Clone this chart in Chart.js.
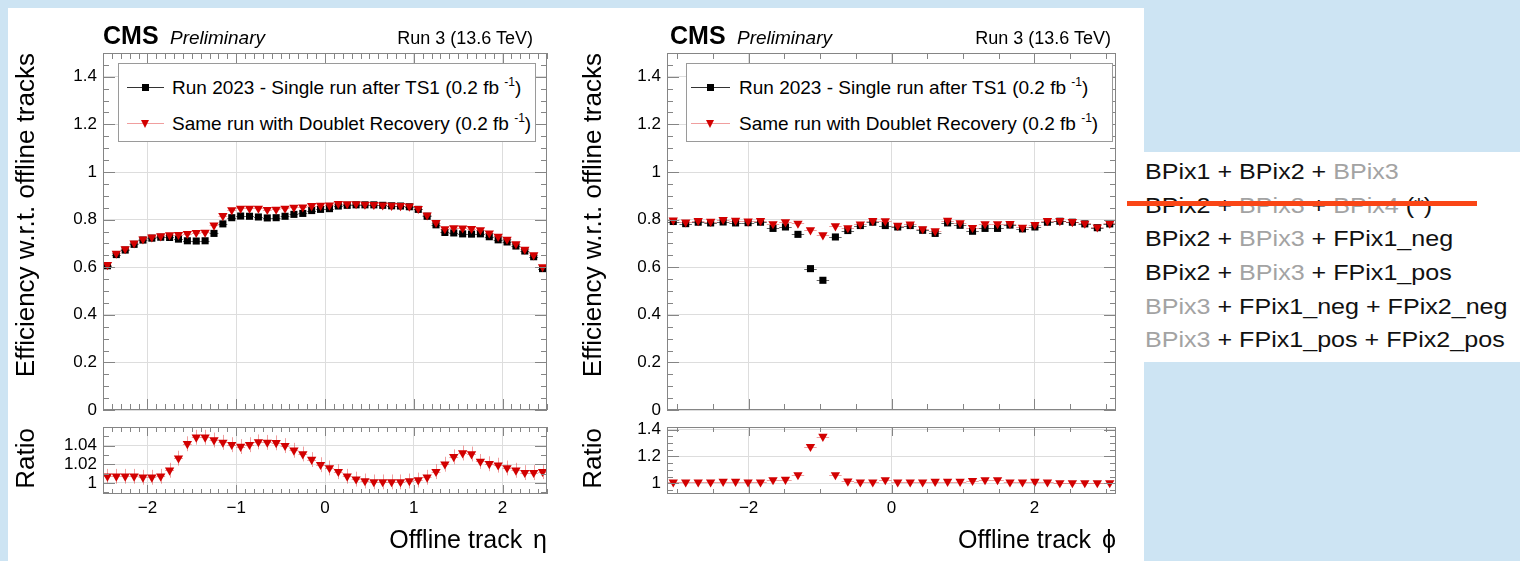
<!DOCTYPE html>
<html>
<head>
<meta charset="utf-8">
<script src="https://cdn.jsdelivr.net/npm/chart.js@4.4.1/dist/chart.umd.min.js"></script>
<style>
  html, body { margin: 0; padding: 0; }
  body {
    width: 1520px; height: 561px; position: relative; overflow: hidden;
    background: #cde4f3;
    font-family: "Liberation Sans", Arial, Helvetica, sans-serif;
  }
  #panel { position: absolute; left: 8px; top: 8px; width: 1136px; height: 553px; background: #fff; }
  #layers { position: absolute; left: 1144px; top: 152px; width: 376px; height: 210px; background: #fff; }
  canvas { position: absolute; }
  .t { position: absolute; white-space: nowrap; color: #000; line-height: 1; }
  .g { color: #a3a3a3; }
  .legend { position: absolute; background: #fff; border: 1px solid #9a9a9a; box-sizing: border-box; }
  .seg { position: absolute; height: 1px; }
</style>
</head>
<body>
<div id="panel"></div>
<div id="layers"></div>
<script>
// ─── Data ────────────────────────────────────────────────────────────────────

const etaCenters = [
  -2.45, -2.35, -2.25, -2.15, -2.05, -1.95, -1.85, -1.75, -1.65, -1.55,
  -1.45, -1.35, -1.25, -1.15, -1.05, -0.95, -0.85, -0.75, -0.65, -0.55,
  -0.45, -0.35, -0.25, -0.15, -0.05,  0.05,  0.15,  0.25,  0.35,  0.45,
   0.55,  0.65,  0.75,  0.85,  0.95,  1.05,  1.15,  1.25,  1.35,  1.45,
   1.55,  1.65,  1.75,  1.85,  1.95,  2.05,  2.15,  2.25,  2.35,  2.45
];
const etaSingleRun = [
  0.606, 0.653, 0.672, 0.696, 0.714, 0.722, 0.726, 0.725, 0.718, 0.711,
  0.710, 0.711, 0.742, 0.782, 0.808, 0.815, 0.814, 0.811, 0.807, 0.808,
  0.814, 0.822, 0.826, 0.838, 0.843, 0.846, 0.857, 0.860, 0.862, 0.862,
  0.862, 0.860, 0.858, 0.857, 0.854, 0.843, 0.814, 0.778, 0.746, 0.744,
  0.740, 0.739, 0.740, 0.728, 0.715, 0.706, 0.689, 0.668, 0.644, 0.594
];
const etaDoublet = [
  0.610, 0.658, 0.677, 0.701, 0.718, 0.726, 0.731, 0.735, 0.737, 0.741,
  0.745, 0.746, 0.776, 0.816, 0.841, 0.847, 0.847, 0.847, 0.842, 0.843,
  0.847, 0.851, 0.852, 0.858, 0.859, 0.860, 0.867, 0.866, 0.866, 0.864,
  0.863, 0.861, 0.859, 0.858, 0.856, 0.846, 0.819, 0.787, 0.761, 0.765,
  0.764, 0.762, 0.757, 0.743, 0.729, 0.717, 0.698, 0.675, 0.651, 0.601
];
const etaRatio = [
  1.007, 1.007, 1.007, 1.007, 1.006, 1.006, 1.007, 1.0135, 1.0265, 1.042,
  1.049, 1.049, 1.046, 1.0435, 1.041, 1.039, 1.041, 1.044, 1.0435, 1.043,
  1.040, 1.035, 1.031, 1.025, 1.0195, 1.016, 1.012, 1.007, 1.004, 1.002,
  1.001, 1.001, 1.001, 1.001, 1.002, 1.003, 1.006, 1.012, 1.020, 1.028,
  1.032, 1.031, 1.023, 1.0205, 1.019, 1.016, 1.0135, 1.011, 1.011, 1.012
];

const phiCenters = [
  -3.054, -2.880, -2.705, -2.531, -2.356, -2.182, -2.007, -1.833, -1.658, -1.484,
  -1.309, -1.134, -0.960, -0.785, -0.611, -0.436, -0.262, -0.087,  0.087,  0.262,
   0.436,  0.611,  0.785,  0.960,  1.134,  1.309,  1.484,  1.658,  1.833,  2.007,
   2.182,  2.356,  2.531,  2.705,  2.880,  3.054
];
const phiSingleRun = [
  0.792, 0.783, 0.789, 0.786, 0.790, 0.786, 0.787, 0.789, 0.763, 0.769,
  0.738, 0.594, 0.545, 0.727, 0.754, 0.775, 0.789, 0.775, 0.769, 0.775,
  0.755, 0.742, 0.786, 0.776, 0.751, 0.763, 0.763, 0.777, 0.761, 0.769,
  0.789, 0.793, 0.789, 0.782, 0.766, 0.782
];
const phiDoublet = [
  0.798, 0.789, 0.795, 0.792, 0.800, 0.796, 0.793, 0.795, 0.782, 0.790,
  0.784, 0.756, 0.735, 0.773, 0.765, 0.781, 0.795, 0.794, 0.775, 0.781,
  0.761, 0.752, 0.796, 0.786, 0.766, 0.782, 0.782, 0.783, 0.767, 0.779,
  0.795, 0.795, 0.791, 0.784, 0.768, 0.784
];
const phiRatio = [
  1.008, 1.008, 1.008, 1.008, 1.013, 1.013, 1.008, 1.008, 1.025, 1.028,
  1.063, 1.273, 1.349, 1.063, 1.015, 1.008, 1.008, 1.025, 1.008, 1.008,
  1.008, 1.013, 1.013, 1.013, 1.020, 1.025, 1.025, 1.008, 1.008, 1.013,
  1.008, 1.003, 1.003, 1.003, 1.003, 1.003
];

const effTicks      = [0, 0.2, 0.4, 0.6, 0.8, 1, 1.2, 1.4];
const etaTicks      = [-2, -1, 0, 1, 2];
const phiTicks      = [-2, 0, 2];
const etaRatioTicks = [1, 1.02, 1.04];
const phiRatioTicks = [1, 1.2, 1.4];

const legendLabels = [
  'Run 2023 - Single run after TS1 (0.2 fb <sup>-1</sup>)',
  'Same run with Doublet Recovery (0.2 fb <sup>-1</sup>)'
];

// ─── Style ───────────────────────────────────────────────────────────────────

const FONT   = '"Liberation Sans", Arial, Helvetica, sans-serif';
const GRID   = '#dddddd';
const FRAME  = '#858585';
const RED    = '#d20000';
const RED_BAR   = 'rgba(215,0,0,0.38)';
const BLACK_BAR = 'rgba(0,0,0,0.6)';
const TICK_SIZE = 17;

const fmtX = v => (v < 0 ? '\u2212' + Math.abs(v) : String(v));
const fmtY = v => String(+(+v).toFixed(2));

// ─── Plugin: ROOT-like frame, inward ticks, error bars ───────────────────────

const rootFrame = {
  id: 'rootFrame',
  beforeDatasetsDraw(chart) {
    const { ctx, chartArea: a, scales: { x, y } } = chart;
    ctx.save();
    ctx.beginPath();
    ctx.rect(a.left, a.top, a.right - a.left, a.bottom - a.top);
    ctx.clip();
    ctx.lineWidth = 1;
    chart.data.datasets.forEach(ds => {
      ctx.strokeStyle = ds.barColor;
      ctx.beginPath();
      ds.data.forEach(p => {
        const py = Math.round(y.getPixelForValue(p.y)) + 0.5;
        ctx.moveTo(x.getPixelForValue(p.x - ds.halfWidth), py);
        ctx.lineTo(x.getPixelForValue(p.x + ds.halfWidth), py);
        if (ds.yErr) {
          const px = Math.round(x.getPixelForValue(p.x)) + 0.5;
          ctx.moveTo(px, y.getPixelForValue(p.y - ds.yErr));
          ctx.lineTo(px, y.getPixelForValue(p.y + ds.yErr));
        }
      });
      ctx.stroke();
    });
    ctx.restore();
  },
  afterDraw(chart, args, o) {
    const { ctx, chartArea: a, scales: { x, y } } = chart;
    ctx.save();
    ctx.strokeStyle = FRAME;
    ctx.lineWidth = 1;
    ctx.beginPath();
    const xTick = (v, len) => {
      const px = Math.round(x.getPixelForValue(v)) + 0.5;
      ctx.moveTo(px, a.bottom); ctx.lineTo(px, a.bottom - len);
      ctx.moveTo(px, a.top);    ctx.lineTo(px, a.top + len);
    };
    const yTick = (v, len) => {
      const py = Math.round(y.getPixelForValue(v)) + 0.5;
      ctx.moveTo(a.left, py);  ctx.lineTo(a.left + len, py);
      ctx.moveTo(a.right, py); ctx.lineTo(a.right - len, py);
    };
    for (let k = Math.ceil(x.min / o.xMinor - 1e-6); k * o.xMinor <= x.max + 1e-9; k++) xTick(k * o.xMinor, o.xMinorLen);
    for (let k = Math.ceil(y.min / o.yMinor - 1e-6); k * o.yMinor <= y.max + 1e-9; k++) yTick(k * o.yMinor, o.yMinorLen);
    o.xMajor.forEach(v => xTick(v, o.xMajorLen));
    o.yMajor.forEach(v => yTick(v, o.yMajorLen));
    ctx.stroke();
    ctx.strokeRect(a.left + 0.5, a.top + 0.5, a.right - a.left - 1, a.bottom - a.top - 1);
    ctx.restore();
  }
};

// ─── Chart factory ───────────────────────────────────────────────────────────

function makePlot(area, xRange, yRange, xTicks, yTicks, showX, frame, series) {
  const padTop = 22, padRight = 14, yw = 80, xh = showX ? 36 : 22;
  const cv = document.createElement('canvas');
  cv.width = area.right - area.left + yw + padRight;
  cv.height = area.bottom - area.top + padTop + xh;
  cv.style.left = (area.left - yw) + 'px';
  cv.style.top = (area.top - padTop) + 'px';
  document.body.appendChild(cv);

  const datasets = series.map(s => ({
    data: s.xs.map((xv, i) => ({ x: xv, y: s.ys[i] })),
    pointStyle: s.marker,
    pointRotation: s.marker === 'triangle' ? 180 : 0,
    pointRadius: s.marker === 'triangle' ? 5.4 : 5,
    pointBackgroundColor: s.color,
    pointBorderWidth: 0,
    showLine: false,
    order: s.order,
    halfWidth: s.halfWidth,
    yErr: s.yErr || 0,
    barColor: s.barColor
  }));

  return new Chart(cv, {
    type: 'scatter',
    data: { datasets },
    options: {
      responsive: false,
      animation: false,
      events: [],
      layout: { padding: { top: padTop, right: padRight, left: 0, bottom: 0 } },
      plugins: { legend: { display: false }, tooltip: { enabled: false }, rootFrame: frame },
      scales: {
        x: {
          type: 'linear', min: xRange[0], max: xRange[1],
          afterFit: s => { s.height = xh; },
          afterBuildTicks: s => { s.ticks = xTicks.map(v => ({ value: v })); },
          border: { display: false },
          grid: { color: GRID, drawTicks: false },
          ticks: { display: showX, padding: 4, color: '#000', font: { family: FONT, size: TICK_SIZE }, callback: fmtX, maxRotation: 0 }
        },
        y: {
          type: 'linear', min: yRange[0], max: yRange[1],
          afterFit: s => { s.width = yw; },
          afterBuildTicks: s => { s.ticks = yTicks.map(v => ({ value: v })); },
          border: { display: false },
          grid: { color: GRID, drawTicks: false },
          ticks: { padding: 6, color: '#000', font: { family: FONT, size: TICK_SIZE }, callback: fmtY }
        }
      }
    },
    plugins: [rootFrame]
  });
}

// ─── HTML text helpers ───────────────────────────────────────────────────────

function text(html, x, base, size, opt = {}) {
  const d = document.createElement('div');
  d.className = 't';
  d.innerHTML = html;
  d.style.fontSize = size + 'px';
  d.style.top = (base - 0.8465 * size) + 'px';
  if (opt.right) d.style.right = (1520 - x) + 'px'; else d.style.left = x + 'px';
  if (opt.bold) d.style.fontWeight = 'bold';
  if (opt.italic) d.style.fontStyle = 'italic';
  document.body.appendChild(d);
  return d;
}

function vtitle(str, cx, top, size) {
  const d = document.createElement('div');
  d.className = 't';
  d.textContent = str;
  d.style.fontSize = size + 'px';
  d.style.left = (cx - size / 2) + 'px';
  d.style.top = top + 'px';
  d.style.transformOrigin = '0 0';
  d.style.transform = 'rotate(-90deg) translateX(-100%)';
  document.body.appendChild(d);
}

function box(cls, l, t, w, h, bg) {
  const d = document.createElement('div');
  d.className = cls;
  Object.assign(d.style, { position: 'absolute', left: l + 'px', top: t + 'px', width: w + 'px', height: h + 'px' });
  if (bg) d.style.background = bg;
  document.body.appendChild(d);
  return d;
}

function legend(l, t, w, h, lineL, lineR, textL) {
  box('legend', l, t, w, h);
  const mid = (lineL + lineR) / 2;
  const rows = [t + 24, t + 60];
  box('seg', lineL, rows[0], lineR - lineL, 1, '#333');
  box('', mid - 3.5, rows[0] - 3, 7, 7, '#000');
  box('seg', lineL, rows[1], lineR - lineL, 1, RED_BAR);
  const tri = box('', mid - 4.5, rows[1] - 3, 0, 0);
  Object.assign(tri.style, { borderLeft: '4.5px solid transparent', borderRight: '4.5px solid transparent', borderTop: '8px solid ' + RED });
  legendLabels.forEach((s, i) => {
    const d = text(s, textL, rows[i] + 7, 19);
    d.querySelectorAll('sup').forEach(e => Object.assign(e.style, { fontSize: '12px', verticalAlign: '8px', lineHeight: '0' }));
  });
}

function header(left, right) {
  text('CMS', left, 44, 25, { bold: true });
  text('Preliminary', left + 67, 44, 19, { italic: true });
  text('Run 3 (13.6 TeV)', right, 44, 18, { right: true });
}

// ─── Plots ───────────────────────────────────────────────────────────────────

const etaMain  = { left: 103, right: 547, top: 53, bottom: 410 };
const etaLow   = { left: 103, right: 547, top: 427, bottom: 494 };
const phiMain  = { left: 667, right: 1116, top: 53, bottom: 410 };
const phiLow   = { left: 667, right: 1116, top: 427, bottom: 494 };

const mainFrameEta = { xMajor: etaTicks, xMinor: 0.1, xMajorLen: 11, xMinorLen: 6, yMajor: effTicks, yMinor: 0.05, yMajorLen: 12, yMinorLen: 6 };
const lowFrameEta  = { xMajor: etaTicks, xMinor: 0.1, xMajorLen: 9, xMinorLen: 5, yMajor: etaRatioTicks, yMinor: 0.01, yMajorLen: 12, yMinorLen: 6 };
const mainFramePhi = { xMajor: phiTicks, xMinor: 0.5, xMajorLen: 11, xMinorLen: 6, yMajor: effTicks, yMinor: 0.05, yMajorLen: 12, yMinorLen: 6 };
const lowFramePhi  = { xMajor: phiTicks, xMinor: 0.5, xMajorLen: 9, xMinorLen: 5, yMajor: phiRatioTicks, yMinor: 0.05, yMajorLen: 12, yMinorLen: 6 };

const etaHalf = 0.05, phiHalf = Math.PI / 36;

makePlot(etaMain, [-2.5, 2.5], [0, 1.5], etaTicks, effTicks, false, mainFrameEta, [
  { xs: etaCenters, ys: etaSingleRun, marker: 'rect', color: '#000', order: 2, halfWidth: etaHalf, barColor: BLACK_BAR },
  { xs: etaCenters, ys: etaDoublet, marker: 'triangle', color: RED, order: 1, halfWidth: etaHalf, barColor: RED_BAR }
]);
makePlot(etaLow, [-2.5, 2.5], [0.988, 1.06], etaTicks, etaRatioTicks, true, lowFrameEta, [
  { xs: etaCenters, ys: etaRatio, marker: 'triangle', color: RED, order: 1, halfWidth: etaHalf, barColor: RED_BAR, yErr: 0.008 }
]);
makePlot(phiMain, [-Math.PI, Math.PI], [0, 1.5], phiTicks, effTicks, false, mainFramePhi, [
  { xs: phiCenters, ys: phiSingleRun, marker: 'rect', color: '#000', order: 2, halfWidth: phiHalf, barColor: BLACK_BAR },
  { xs: phiCenters, ys: phiDoublet, marker: 'triangle', color: RED, order: 1, halfWidth: phiHalf, barColor: RED_BAR }
]);
makePlot(phiLow, [-Math.PI, Math.PI], [0.92, 1.42], phiTicks, phiRatioTicks, true, lowFramePhi, [
  { xs: phiCenters, ys: phiRatio, marker: 'triangle', color: RED, order: 1, halfWidth: phiHalf, barColor: RED_BAR, yErr: 0.007 }
]);

// ─── Labels ──────────────────────────────────────────────────────────────────

header(103, 533);
header(670, 1111);
legend(118, 63, 418, 79, 127, 164, 172);
legend(686, 63, 427, 79, 691, 730, 739);

vtitle('Efficiency w.r.t. offline tracks', 25, 53, 26);
vtitle('Ratio', 25, 428, 26);
vtitle('Efficiency w.r.t. offline tracks', 592, 53, 26);
vtitle('Ratio', 592, 428, 26);
text('Offline track <span style="margin-left:4px">\u03b7</span>', 547, 548, 25, { right: true });
text('Offline track <span style="margin-left:4px">\u03d5</span>', 1116, 548, 25, { right: true });

// ─── Pixel layer combinations (right box) ────────────────────────────────────

const layerLines = [
  'BPix1 + BPix2 + <span class="g">BPix3</span>',
  'BPix2 + <span class="g">BPix3</span> + <span class="g">BPix4</span> (*)',
  'BPix2 + <span class="g">BPix3</span> + FPix1_neg',
  'BPix2 + <span class="g">BPix3</span> + FPix1_pos',
  '<span class="g">BPix3</span> + FPix1_neg + FPix2_neg',
  '<span class="g">BPix3</span> + FPix1_pos + FPix2_pos'
];
const layerBase = [180, 214, 247, 281, 315, 348];
layerLines.forEach((s, i) => {
  const d = text(s, 1145, layerBase[i], 22);
  d.style.color = '#111';
  d.style.transformOrigin = '0 0';
  d.style.transform = 'scaleX(1.14)';
});
box('', 1127, 201, 350, 5, '#fa4616');
</script>
</body>
</html>
